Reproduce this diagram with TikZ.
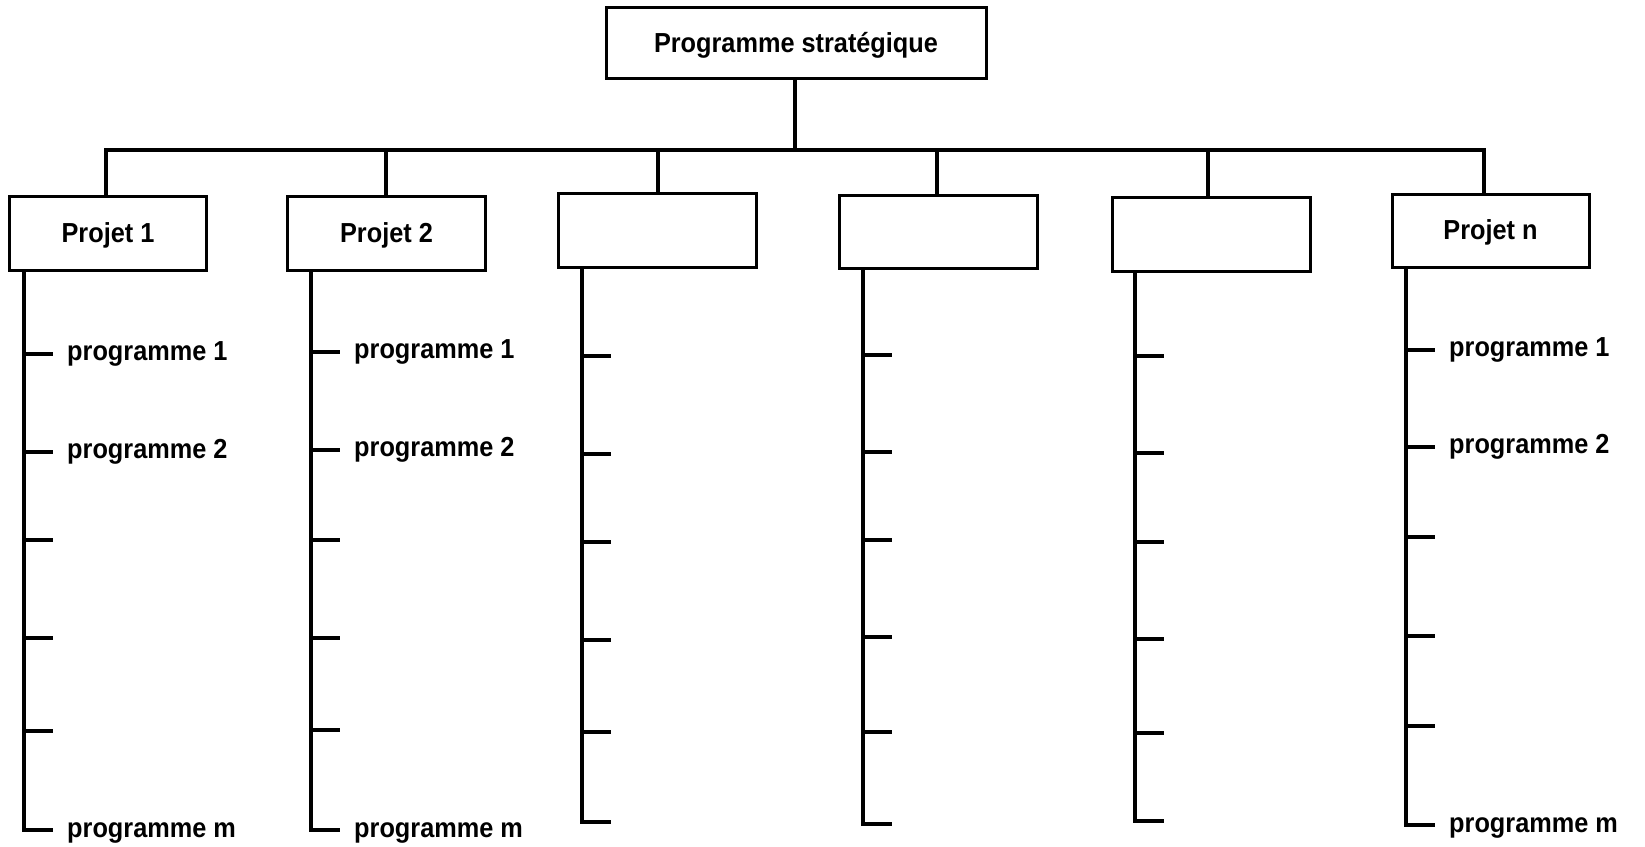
\documentclass[tikz,border=0pt]{standalone}
\usepackage{fontspec}
\setmainfont{Liberation Sans}
\newfontfamily\heavyfont{Liberation Sans Bold}[FakeStretch=0.92]
\newcommand{\lblfont}{\heavyfont\fontsize{27.5bp}{33bp}\selectfont}
\tikzset{
  box/.style={draw, line width=3bp, minimum height=74bp, inner sep=0pt, outer sep=0pt,
    font=\lblfont, text height=20bp, text depth=2bp},
  conn/.style={line width=3.5bp},
  lab/.style={anchor=base west, inner sep=0pt, font=\lblfont}
}
\begin{document}
\begin{tikzpicture}[x=1bp,y=-1bp]
\useasboundingbox (0,0) rectangle (1645,846);
% top
\node[box, minimum width=380bp, minimum height=71bp] (top) at (796,43.3) {Programme stratégique};
% project boxes
\node[box, minimum width=196bp] (b1) at (108,233) {Projet 1};
\node[box, minimum width=198bp] (b2) at (386.5,233) {Projet 2};
\node[box, minimum width=198bp] (b3) at (657,230) {};
\node[box, minimum width=198bp, minimum height=73bp] (b4) at (938,231.5) {};
\node[box, minimum width=198bp] (b5) at (1211,234) {};
\node[box, minimum width=197bp, minimum height=73bp] (b6) at (1490.5,230.5) {Projet n};
% bar
\coordinate (stem) at (795,150);
\foreach \i/\x in {1/106,2/386,3/658,4/937,5/1208,6/1484}
  \coordinate (d\i) at (\x,150);
\draw[conn] (top.south -| stem) -- (stem);
\draw[conn, line join=miter] (d1 |- b1.north) -- (d1) -- (d6) -- (d6 |- b6.north);
\foreach \i in {2,3,4,5}
  \draw[conn] (d\i) -- (d\i |- b\i.north);
% spines and ticks
\foreach \i/\sx/\ya/\yb/\yc/\yd/\ye/\yf in {
  1/24/354/452/540/638/731/830,
  2/311/352/450/540/638/730/830,
  3/582/356/454/542/640/732/822,
  4/863/355/452/540/637/732/824,
  5/1135/356/453/542/639/733/821,
  6/1406/350/447/537/636/726/825}{
  \coordinate (s\i) at (\sx,\yf);
  \coordinate (t\i-1) at (\sx,\ya);
  \coordinate (t\i-2) at (\sx,\yb);
  \coordinate (t\i-3) at (\sx,\yc);
  \coordinate (t\i-4) at (\sx,\yd);
  \coordinate (t\i-5) at (\sx,\ye);
  \draw[conn, line join=miter] (s\i |- b\i.south) -- (s\i) -- ++(29,0);
  \foreach \k in {1,...,5}
    \draw[conn] (t\i-\k) -- ++(29,0);
}
% labels
\foreach \i/\sx/\ya/\yb/\yf in {1/24/354/452/830, 2/311/352/450/830, 6/1406/350/447/825}{
  \node[lab] (p\i-1) at (\sx+43,\ya+6) {programme 1};
  \node[lab] (p\i-2) at (\sx+43,\yb+6) {programme 2};
  \node[lab] (p\i-m) at (\sx+43,\yf+7) {programme m};
}
\end{tikzpicture}
\end{document}
